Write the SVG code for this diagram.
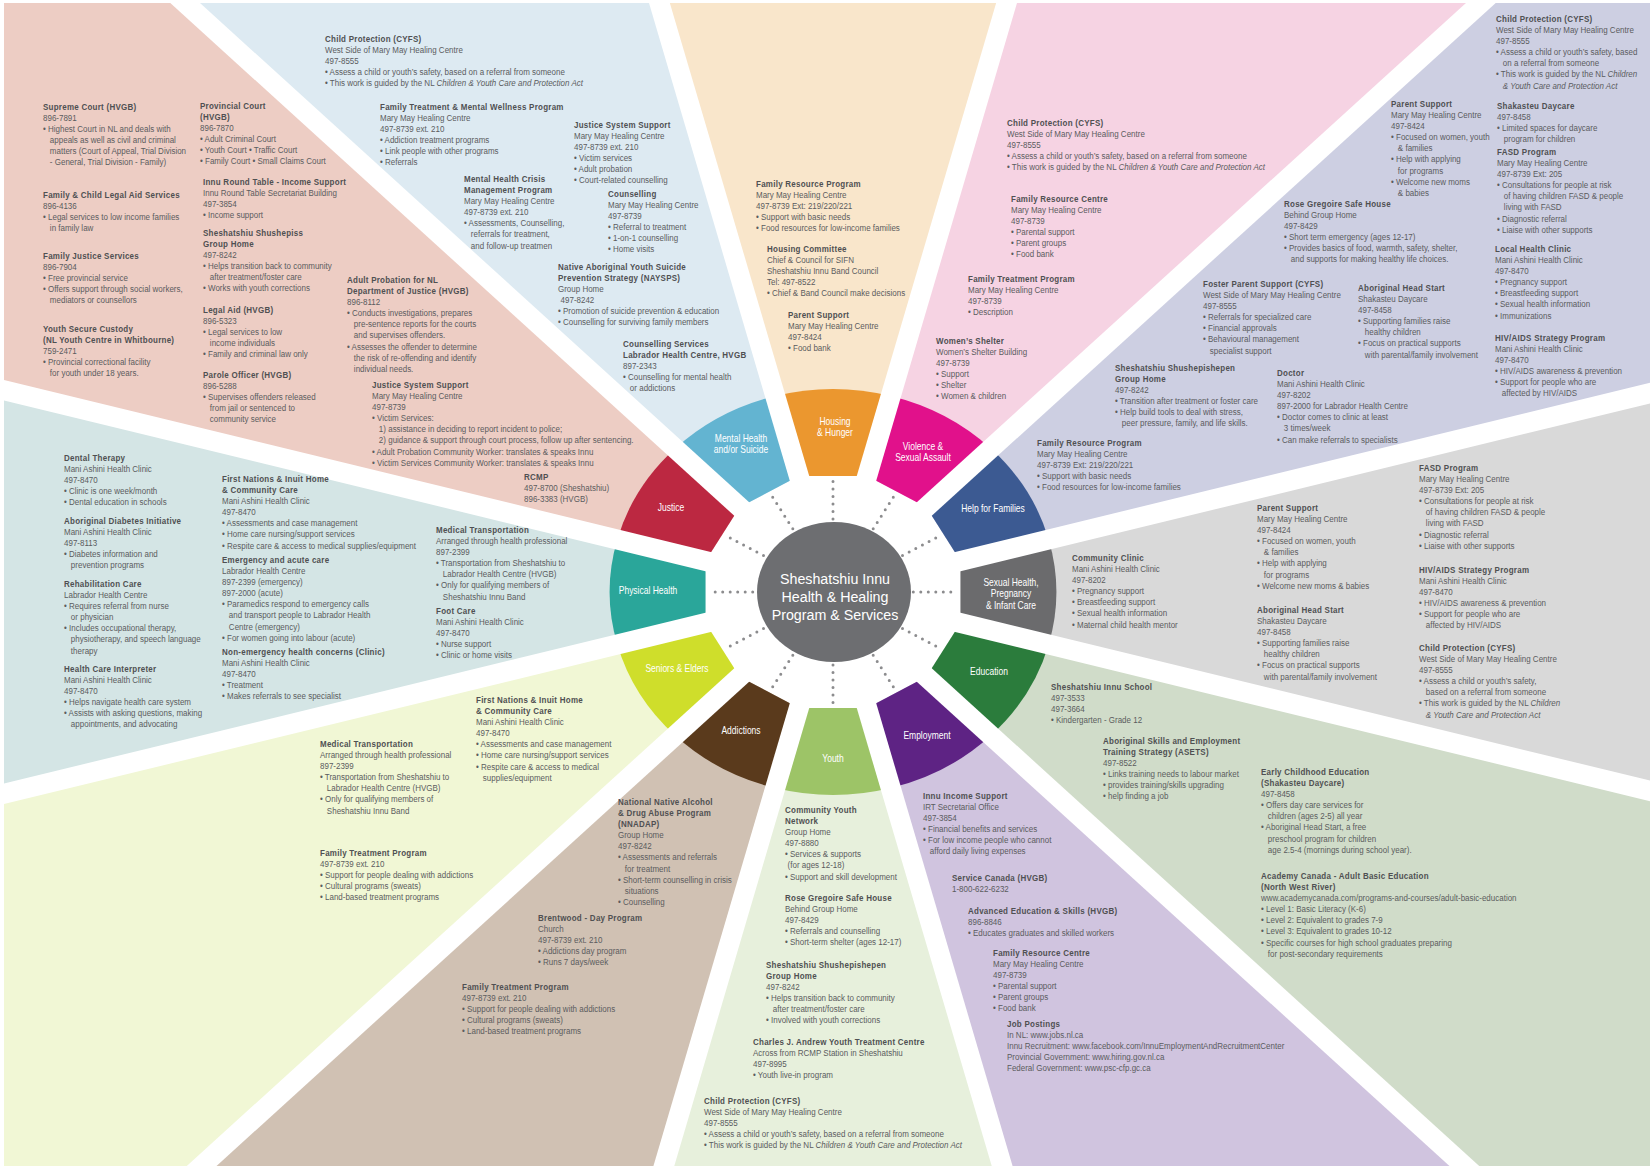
<svg xmlns="http://www.w3.org/2000/svg" width="1650" height="1166" viewBox="0 0 1650 1166">
<style>
.t{font-family:"Liberation Sans",Arial,sans-serif;font-size:9.3px;fill:#5b5c5e}
.h{font-weight:bold;fill:#4f5052;letter-spacing:0.3px}
.i{font-style:italic}
.lbl{font-family:"Liberation Sans",Arial,sans-serif;font-size:10px;fill:#fff;text-anchor:middle}
.ctr{font-family:"Liberation Sans",Arial,sans-serif;font-size:15.5px;fill:#fff;text-anchor:middle}
.strip{stroke:#fff;stroke-width:20;fill:none}
.dots{stroke:#8c8c8e;stroke-width:3;stroke-linecap:round;stroke-dasharray:0 7.5;fill:none}
</style>
<defs>
<clipPath id="frame"><rect x="4" y="3" width="1646" height="1163"/></clipPath>
</defs>
<rect width="1650" height="1166" fill="#fff"/>
<g id="regions" clip-path="url(#frame)">
<g transform="translate(833,592) scale(1.1,1)">
<path fill="#D9D9D9" d="M0,0 L2898,-776 L2898,776 Z"/>
<path fill="#D0DCC9" d="M0,0 L2898,776 L2121,2121 Z"/>
<path fill="#D0C4DF" d="M0,0 L2121,2121 L776,2898 Z"/>
<path fill="#E7F0DC" d="M0,0 L776,2898 L-776,2898 Z"/>
<path fill="#D0C1B3" d="M0,0 L-776,2898 L-2121,2121 Z"/>
<path fill="#F1F7D5" d="M0,0 L-2121,2121 L-2898,776 Z"/>
<path fill="#D4E5E5" d="M0,0 L-2898,776 L-2898,-776 Z"/>
<path fill="#EDCDC4" d="M0,0 L-2898,-776 L-2121,-2121 Z"/>
<path fill="#DDEAF2" d="M0,0 L-2121,-2121 L-776,-2898 Z"/>
<path fill="#F9E6CB" d="M0,0 L-776,-2898 L776,-2898 Z"/>
<path fill="#F6D3E3" d="M0,0 L776,-2898 L2121,-2121 Z"/>
<path fill="#CDCFE2" d="M0,0 L2121,-2121 L2898,-776 Z"/>
<polygon fill="#fff" points="115.91,31.06 84.85,84.85 31.06,115.91 -31.06,115.91 -84.85,84.85 -115.91,31.06 -115.91,-31.06 -84.85,-84.85 -31.06,-115.91 31.06,-115.91 84.85,-84.85 115.91,-31.06"/>
</g>
</g>
<g id="tiles">
<g id="node-sexual-health"><path fill="#6B6B6D" transform="translate(833,592) scale(1.1,1)" d="M115.91,-31.06 L196.08,-52.54 A203,203 0 0 1 196.08,52.54 L115.91,31.06 Z"/></g>
<g id="node-education"><path fill="#2B7C3C" transform="translate(833,592) scale(1.1,1)" d="M115.91,31.06 L196.08,52.54 A203,203 0 0 1 143.54,143.54 L84.85,84.85 Z"/></g>
<g id="node-employment"><path fill="#5E2384" transform="translate(833,592) scale(1.1,1)" d="M84.85,84.85 L143.54,143.54 A203,203 0 0 1 52.54,196.08 L31.06,115.91 Z"/></g>
<g id="node-youth"><path fill="#9DC467" transform="translate(833,592) scale(1.1,1)" d="M31.06,115.91 L52.54,196.08 A203,203 0 0 1 -52.54,196.08 L-31.06,115.91 Z"/></g>
<g id="node-addictions"><path fill="#5A3A1C" transform="translate(833,592) scale(1.1,1)" d="M-31.06,115.91 L-52.54,196.08 A203,203 0 0 1 -143.54,143.54 L-84.85,84.85 Z"/></g>
<g id="node-seniors"><path fill="#CFDE2B" transform="translate(833,592) scale(1.1,1)" d="M-84.85,84.85 L-143.54,143.54 A203,203 0 0 1 -196.08,52.54 L-115.91,31.06 Z"/></g>
<g id="node-physical-health"><path fill="#2AA69A" transform="translate(833,592) scale(1.1,1)" d="M-115.91,31.06 L-196.08,52.54 A203,203 0 0 1 -196.08,-52.54 L-115.91,-31.06 Z"/></g>
<g id="node-justice"><path fill="#BC2841" transform="translate(833,592) scale(1.1,1)" d="M-115.91,-31.06 L-196.08,-52.54 A203,203 0 0 1 -143.54,-143.54 L-84.85,-84.85 Z"/></g>
<g id="node-mental-health"><path fill="#63B4D1" transform="translate(833,592) scale(1.1,1)" d="M-84.85,-84.85 L-143.54,-143.54 A203,203 0 0 1 -52.54,-196.08 L-31.06,-115.91 Z"/></g>
<g id="node-housing"><path fill="#EB972F" transform="translate(833,592) scale(1.1,1)" d="M-31.06,-115.91 L-52.54,-196.08 A203,203 0 0 1 52.54,-196.08 L31.06,-115.91 Z"/></g>
<g id="node-violence"><path fill="#E1118B" transform="translate(833,592) scale(1.1,1)" d="M31.06,-115.91 L52.54,-196.08 A203,203 0 0 1 143.54,-143.54 L84.85,-84.85 Z"/></g>
<g id="node-help-families"><path fill="#3C5A92" transform="translate(833,592) scale(1.1,1)" d="M84.85,-84.85 L143.54,-143.54 A203,203 0 0 1 196.08,-52.54 L115.91,-31.06 Z"/></g>
</g>
<g id="strips" clip-path="url(#frame)">
<line class="strip" x1="833" y1="592" x2="2427" y2="980"/>
<line class="strip" x1="833" y1="592" x2="2000" y2="1653"/>
<line class="strip" x1="833" y1="592" x2="1260" y2="2041"/>
<line class="strip" x1="833" y1="592" x2="406" y2="2041"/>
<line class="strip" x1="833" y1="592" x2="-334" y2="1653"/>
<line class="strip" x1="833" y1="592" x2="-761" y2="980"/>
<line class="strip" x1="833" y1="592" x2="-761" y2="204"/>
<line class="strip" x1="833" y1="592" x2="-334" y2="-469"/>
<line class="strip" x1="833" y1="592" x2="406" y2="-857"/>
<line class="strip" x1="833" y1="592" x2="1260" y2="-857"/>
<line class="strip" x1="833" y1="592" x2="2000" y2="-469"/>
<line class="strip" x1="833" y1="592" x2="2427" y2="204"/>
</g>
<g id="connectors">
<line class="dots" x1="913.3" y1="592" x2="957.3" y2="592"/>
<line class="dots" x1="902.5" y1="628.5" x2="940.6" y2="648.5"/>
<line class="dots" x1="873.2" y1="655.2" x2="895.2" y2="689.9"/>
<line class="dots" x1="833" y1="665" x2="833" y2="705"/>
<line class="dots" x1="792.8" y1="655.2" x2="770.8" y2="689.9"/>
<line class="dots" x1="763.5" y1="628.5" x2="725.4" y2="648.5"/>
<line class="dots" x1="752.7" y1="592" x2="708.7" y2="592"/>
<line class="dots" x1="763.5" y1="555.5" x2="725.4" y2="535.5"/>
<line class="dots" x1="792.8" y1="528.8" x2="770.8" y2="494.1"/>
<line class="dots" x1="833" y1="519" x2="833" y2="479"/>
<line class="dots" x1="873.2" y1="528.8" x2="895.2" y2="494.1"/>
<line class="dots" x1="902.5" y1="555.5" x2="940.6" y2="535.5"/>
</g>
<g id="node-centre">
<ellipse cx="834" cy="592" rx="77" ry="70" fill="#6D6E71"/>
<g transform="translate(835,0) scale(0.92,1)"><text class="ctr"><tspan x="0" y="584">Sheshatshiu Innu</tspan><tspan x="0" y="602">Health &amp; Healing</tspan><tspan x="0" y="620">Program &amp; Services</tspan></text></g>
</g>
<g id="tile-labels">
<g transform="translate(835,425) scale(.85,1)"><text class="lbl"><tspan x="0" y="0">Housing</tspan><tspan x="0" y="11.5">&amp; Hunger</tspan></text></g>
<g transform="translate(923,450) scale(.85,1)"><text class="lbl"><tspan x="0" y="0">Violence &amp;</tspan><tspan x="0" y="11.5">Sexual Assault</tspan></text></g>
<g transform="translate(993,512) scale(.85,1)"><text class="lbl">Help for Families</text></g>
<g transform="translate(1011,586) scale(.85,1)"><text class="lbl"><tspan x="0" y="0">Sexual Health,</tspan><tspan x="0" y="11.5">Pregnancy</tspan><tspan x="0" y="23">&amp; Infant Care</tspan></text></g>
<g transform="translate(989,675) scale(.85,1)"><text class="lbl">Education</text></g>
<g transform="translate(927,739) scale(.85,1)"><text class="lbl">Employment</text></g>
<g transform="translate(833,762) scale(.85,1)"><text class="lbl">Youth</text></g>
<g transform="translate(741,734) scale(.85,1)"><text class="lbl">Addictions</text></g>
<g transform="translate(677,672) scale(.85,1)"><text class="lbl">Seniors &amp; Elders</text></g>
<g transform="translate(648,594) scale(.85,1)"><text class="lbl">Physical Health</text></g>
<g transform="translate(671,511) scale(.85,1)"><text class="lbl">Justice</text></g>
<g transform="translate(741,442) scale(.85,1)"><text class="lbl"><tspan x="0" y="0">Mental Health</tspan><tspan x="0" y="11.5">and/or Suicide</tspan></text></g>
</g>
<g id="services">
<g id="s-supreme-court" transform="translate(43,110) scale(.86,1)"><text class="t"><tspan class="h" x="0" y="0">Supreme Court (HVGB)</tspan><tspan x="0" dy="11.1">896-7891</tspan><tspan x="0" dy="11.1">• Highest Court in NL and deals with</tspan><tspan x="8" dy="11.1">appeals as well as civil and criminal</tspan><tspan x="8" dy="11.1">matters (Court of Appeal, Trial Division</tspan><tspan x="8" dy="11.1">- General, Trial Division - Family)</tspan></text></g>
<g id="s-provincial-court" transform="translate(200,109) scale(.86,1)"><text class="t"><tspan class="h" x="0" y="0">Provincial Court</tspan><tspan class="h" x="0" dy="11.1">(HVGB)</tspan><tspan x="0" dy="11.1">896-7870</tspan><tspan x="0" dy="11.1">• Adult Criminal Court</tspan><tspan x="0" dy="11.1">• Youth Court  • Traffic Court</tspan><tspan x="0" dy="11.1">• Family Court  • Small Claims Court</tspan></text></g>
<g id="s-family-legal-aid" transform="translate(43,198) scale(.86,1)"><text class="t"><tspan class="h" x="0" y="0">Family &amp; Child Legal Aid Services</tspan><tspan x="0" dy="11.1">896-4136</tspan><tspan x="0" dy="11.1">• Legal services to low income families</tspan><tspan x="8" dy="11.1">in family law</tspan></text></g>
<g id="s-innu-round-table" transform="translate(203,185) scale(.86,1)"><text class="t"><tspan class="h" x="0" y="0">Innu Round Table - Income Support</tspan><tspan x="0" dy="11.1">Innu Round Table Secretariat Building</tspan><tspan x="0" dy="11.1">497-3854</tspan><tspan x="0" dy="11.1">• Income support</tspan></text></g>
<g id="s-family-justice" transform="translate(43,259) scale(.86,1)"><text class="t"><tspan class="h" x="0" y="0">Family Justice Services</tspan><tspan x="0" dy="11.1">896-7904</tspan><tspan x="0" dy="11.1">• Free provincial service</tspan><tspan x="0" dy="11.1">• Offers support through social workers,</tspan><tspan x="8" dy="11.1">mediators or counsellors</tspan></text></g>
<g id="s-shushepiss" transform="translate(203,236) scale(.86,1)"><text class="t"><tspan class="h" x="0" y="0">Sheshatshiu Shushepiss</tspan><tspan class="h" x="0" dy="11.1">Group Home</tspan><tspan x="0" dy="11.1">497-8242</tspan><tspan x="0" dy="11.1">• Helps transition back to community</tspan><tspan x="8" dy="11.1">after treatment/foster care</tspan><tspan x="0" dy="11.1">• Works with youth corrections</tspan></text></g>
<g id="s-youth-custody" transform="translate(43,332) scale(.86,1)"><text class="t"><tspan class="h" x="0" y="0">Youth Secure Custody</tspan><tspan class="h" x="0" dy="11.1">(NL Youth Centre in Whitbourne)</tspan><tspan x="0" dy="11.1">759-2471</tspan><tspan x="0" dy="11.1">• Provincial correctional facility</tspan><tspan x="8" dy="11.1">for youth under 18 years.</tspan></text></g>
<g id="s-legal-aid" transform="translate(203,313) scale(.86,1)"><text class="t"><tspan class="h" x="0" y="0">Legal Aid (HVGB)</tspan><tspan x="0" dy="11.1">896-5323</tspan><tspan x="0" dy="11.1">• Legal services to low</tspan><tspan x="8" dy="11.1">income individuals</tspan><tspan x="0" dy="11.1">• Family and criminal law only</tspan></text></g>
<g id="s-parole" transform="translate(203,378) scale(.86,1)"><text class="t"><tspan class="h" x="0" y="0">Parole Officer (HVGB)</tspan><tspan x="0" dy="11.1">896-5288</tspan><tspan x="0" dy="11.1">• Supervises offenders released</tspan><tspan x="8" dy="11.1">from jail or sentenced to</tspan><tspan x="8" dy="11.1">community service</tspan></text></g>
<g id="s-adult-probation" transform="translate(347,283) scale(.86,1)"><text class="t"><tspan class="h" x="0" y="0">Adult Probation for NL</tspan><tspan class="h" x="0" dy="11.1">Department of Justice (HVGB)</tspan><tspan x="0" dy="11.1">896-8112</tspan><tspan x="0" dy="11.1">• Conducts investigations, prepares</tspan><tspan x="8" dy="11.1">pre-sentence reports for the courts</tspan><tspan x="8" dy="11.1">and supervises offenders.</tspan><tspan x="0" dy="11.1">• Assesses the offender to determine</tspan><tspan x="8" dy="11.1">the risk of re-offending and identify</tspan><tspan x="8" dy="11.1">individual needs.</tspan></text></g>
<g id="s-justice-support-2" transform="translate(372,388) scale(.86,1)"><text class="t"><tspan class="h" x="0" y="0">Justice System Support</tspan><tspan x="0" dy="11.1">Mary May Healing Centre</tspan><tspan x="0" dy="11.1">497-8739</tspan><tspan x="0" dy="11.1">• Victim Services:</tspan><tspan x="8" dy="11.1">1) assistance in deciding to report incident to police;</tspan><tspan x="8" dy="11.1">2) guidance &amp; support through court process, follow up after sentencing.</tspan><tspan x="0" dy="11.1">• Adult Probation Community Worker: translates &amp; speaks Innu</tspan><tspan x="0" dy="11.1">• Victim Services Community Worker: translates &amp; speaks Innu</tspan></text></g>
<g id="s-rcmp" transform="translate(524,480) scale(.86,1)"><text class="t"><tspan class="h" x="0" y="0">RCMP</tspan><tspan x="0" dy="11.1">497-8700 (Sheshatshiu)</tspan><tspan x="0" dy="11.1">896-3383 (HVGB)</tspan></text></g>
<g id="s-cp-mental" transform="translate(325,42) scale(.86,1)"><text class="t"><tspan class="h" x="0" y="0">Child Protection (CYFS)</tspan><tspan x="0" dy="11.1">West Side of Mary May Healing Centre</tspan><tspan x="0" dy="11.1">497-8555</tspan><tspan x="0" dy="11.1">• Assess a child or youth’s safety, based on a referral from someone</tspan><tspan x="0" dy="11.1">• This work is guided by the NL <tspan class="i">Children &amp; Youth Care and Protection Act</tspan></tspan></text></g>
<g id="s-ftmw" transform="translate(380,110) scale(.86,1)"><text class="t"><tspan class="h" x="0" y="0">Family Treatment &amp; Mental Wellness Program</tspan><tspan x="0" dy="11.1">Mary May Healing Centre</tspan><tspan x="0" dy="11.1">497-8739 ext. 210</tspan><tspan x="0" dy="11.1">• Addiction treatment programs</tspan><tspan x="0" dy="11.1">• Link people with other programs</tspan><tspan x="0" dy="11.1">• Referrals</tspan></text></g>
<g id="s-justice-support-1" transform="translate(574,128) scale(.86,1)"><text class="t"><tspan class="h" x="0" y="0">Justice System Support</tspan><tspan x="0" dy="11.1">Mary May Healing Centre</tspan><tspan x="0" dy="11.1">497-8739 ext. 210</tspan><tspan x="0" dy="11.1">• Victim services</tspan><tspan x="0" dy="11.1">• Adult probation</tspan><tspan x="0" dy="11.1">• Court-related counselling</tspan></text></g>
<g id="s-crisis" transform="translate(464,182) scale(.86,1)"><text class="t"><tspan class="h" x="0" y="0">Mental Health Crisis</tspan><tspan class="h" x="0" dy="11.1">Management Program</tspan><tspan x="0" dy="11.1">Mary May Healing Centre</tspan><tspan x="0" dy="11.1">497-8739 ext. 210</tspan><tspan x="0" dy="11.1">• Assessments, Counselling,</tspan><tspan x="8" dy="11.1">referrals for treatment,</tspan><tspan x="8" dy="11.1">and follow-up treatmen</tspan></text></g>
<g id="s-counselling" transform="translate(608,197) scale(.86,1)"><text class="t"><tspan class="h" x="0" y="0">Counselling</tspan><tspan x="0" dy="11.1">Mary May Healing Centre</tspan><tspan x="0" dy="11.1">497-8739</tspan><tspan x="0" dy="11.1">• Referral to treatment</tspan><tspan x="0" dy="11.1">• 1-on-1 counselling</tspan><tspan x="0" dy="11.1">• Home visits</tspan></text></g>
<g id="s-naysps" transform="translate(558,270) scale(.86,1)"><text class="t"><tspan class="h" x="0" y="0">Native Aboriginal Youth Suicide</tspan><tspan class="h" x="0" dy="11.1">Prevention Strategy (NAYSPS)</tspan><tspan x="0" dy="11.1">Group Home</tspan><tspan x="3" dy="11.1">497-8242</tspan><tspan x="0" dy="11.1">• Promotion of suicide prevention &amp; education</tspan><tspan x="0" dy="11.1">• Counselling for surviving family members</tspan></text></g>
<g id="s-counselling-services" transform="translate(623,347) scale(.86,1)"><text class="t"><tspan class="h" x="0" y="0">Counselling Services</tspan><tspan class="h" x="0" dy="11.1">Labrador Health Centre, HVGB</tspan><tspan x="0" dy="11.1">897-2343</tspan><tspan x="0" dy="11.1">• Counselling for mental health</tspan><tspan x="8" dy="11.1">or addictions</tspan></text></g>
<g id="s-frp-housing" transform="translate(756,187) scale(.86,1)"><text class="t"><tspan class="h" x="0" y="0">Family Resource Program</tspan><tspan x="0" dy="11.1">Mary May Healing Centre</tspan><tspan x="0" dy="11.1">497-8739 Ext: 219/220/221</tspan><tspan x="0" dy="11.1">• Support with basic needs</tspan><tspan x="0" dy="11.1">• Food resources for low-income families</tspan></text></g>
<g id="s-housing-committee" transform="translate(767,252) scale(.86,1)"><text class="t"><tspan class="h" x="0" y="0">Housing Committee</tspan><tspan x="0" dy="11.1">Chief &amp; Council for SIFN</tspan><tspan x="0" dy="11.1">Sheshatshiu Innu Band Council</tspan><tspan x="0" dy="11.1">Tel: 497-8522</tspan><tspan x="0" dy="11.1">• Chief &amp; Band Council make decisions</tspan></text></g>
<g id="s-parent-support-housing" transform="translate(788,318) scale(.86,1)"><text class="t"><tspan class="h" x="0" y="0">Parent Support</tspan><tspan x="0" dy="11.1">Mary May Healing Centre</tspan><tspan x="0" dy="11.1">497-8424</tspan><tspan x="0" dy="11.1">• Food bank</tspan></text></g>
<g id="s-cp-violence" transform="translate(1007,126) scale(.86,1)"><text class="t"><tspan class="h" x="0" y="0">Child Protection (CYFS)</tspan><tspan x="0" dy="11.1">West Side of Mary May Healing Centre</tspan><tspan x="0" dy="11.1">497-8555</tspan><tspan x="0" dy="11.1">• Assess a child or youth’s safety, based on a referral from someone</tspan><tspan x="0" dy="11.1">• This work is guided by the NL <tspan class="i">Children &amp; Youth Care and Protection Act</tspan></tspan></text></g>
<g id="s-frc-violence" transform="translate(1011,202) scale(.86,1)"><text class="t"><tspan class="h" x="0" y="0">Family Resource Centre</tspan><tspan x="0" dy="11.1">Mary May Healing Centre</tspan><tspan x="0" dy="11.1">497-8739</tspan><tspan x="0" dy="11.1">• Parental support</tspan><tspan x="0" dy="11.1">• Parent groups</tspan><tspan x="0" dy="11.1">• Food bank</tspan></text></g>
<g id="s-ftp-violence" transform="translate(968,282) scale(.86,1)"><text class="t"><tspan class="h" x="0" y="0">Family Treatment Program</tspan><tspan x="0" dy="11.1">Mary May Healing Centre</tspan><tspan x="0" dy="11.1">497-8739</tspan><tspan x="0" dy="11.1">• Description</tspan></text></g>
<g id="s-womens-shelter" transform="translate(936,344) scale(.86,1)"><text class="t"><tspan class="h" x="0" y="0">Women’s Shelter</tspan><tspan x="0" dy="11.1">Women’s Shelter Building</tspan><tspan x="0" dy="11.1">497-8739</tspan><tspan x="0" dy="11.1">• Support</tspan><tspan x="0" dy="11.1">• Shelter</tspan><tspan x="0" dy="11.1">• Women &amp; children</tspan></text></g>
<g id="s-cp-help" transform="translate(1496,22) scale(.86,1)"><text class="t"><tspan class="h" x="0" y="0">Child Protection (CYFS)</tspan><tspan x="0" dy="11.1">West Side of Mary May Healing Centre</tspan><tspan x="0" dy="11.1">497-8555</tspan><tspan x="0" dy="11.1">• Assess a child or youth’s safety, based</tspan><tspan x="8" dy="11.1">on a referral from someone</tspan><tspan x="0" dy="11.1">• This work is guided by the NL <tspan class="i">Children</tspan></tspan><tspan class="i" x="8" dy="11.1">&amp; Youth Care and Protection Act</tspan></text></g>
<g id="s-parent-support-help" transform="translate(1391,107) scale(.86,1)"><text class="t"><tspan class="h" x="0" y="0">Parent Support</tspan><tspan x="0" dy="11.1">Mary May Healing Centre</tspan><tspan x="0" dy="11.1">497-8424</tspan><tspan x="0" dy="11.1">• Focused on women, youth</tspan><tspan x="8" dy="11.1">&amp; families</tspan><tspan x="0" dy="11.1">• Help with applying</tspan><tspan x="8" dy="11.1">for programs</tspan><tspan x="0" dy="11.1">• Welcome new moms</tspan><tspan x="8" dy="11.1">&amp; babies</tspan></text></g>
<g id="s-shakasteu" transform="translate(1497,109) scale(.86,1)"><text class="t"><tspan class="h" x="0" y="0">Shakasteu Daycare</tspan><tspan x="0" dy="11.1">497-8458</tspan><tspan x="0" dy="11.1">• Limited spaces for daycare</tspan><tspan x="8" dy="11.1">program for children</tspan></text></g>
<g id="s-fasd-help" transform="translate(1497,155) scale(.86,1)"><text class="t"><tspan class="h" x="0" y="0">FASD Program</tspan><tspan x="0" dy="11.1">Mary May Healing Centre</tspan><tspan x="0" dy="11.1">497-8739 Ext: 205</tspan><tspan x="0" dy="11.1">• Consultations for people at risk</tspan><tspan x="8" dy="11.1">of having children FASD &amp; people</tspan><tspan x="8" dy="11.1">living with FASD</tspan><tspan x="0" dy="11.1">• Diagnostic referral</tspan><tspan x="0" dy="11.1">• Liaise with other supports</tspan></text></g>
<g id="s-rose-help" transform="translate(1284,207) scale(.86,1)"><text class="t"><tspan class="h" x="0" y="0">Rose Gregoire  Safe House</tspan><tspan x="0" dy="11.1">Behind Group Home</tspan><tspan x="0" dy="11.1">497-8429</tspan><tspan x="0" dy="11.1">• Short term emergency  (ages 12-17)</tspan><tspan x="0" dy="11.1">• Provides basics of food, warmth, safety, shelter,</tspan><tspan x="8" dy="11.1">and supports for making healthy life choices.</tspan></text></g>
<g id="s-local-clinic" transform="translate(1495,252) scale(.86,1)"><text class="t"><tspan class="h" x="0" y="0">Local Health Clinic</tspan><tspan x="0" dy="11.1">Mani Ashini Health Clinic</tspan><tspan x="0" dy="11.1">497-8470</tspan><tspan x="0" dy="11.1">• Pregnancy support</tspan><tspan x="0" dy="11.1">• Breastfeeding support</tspan><tspan x="0" dy="11.1">• Sexual health information</tspan><tspan x="0" dy="11.1">• Immunizations</tspan></text></g>
<g id="s-foster" transform="translate(1203,287) scale(.86,1)"><text class="t"><tspan class="h" x="0" y="0">Foster Parent Support (CYFS)</tspan><tspan x="0" dy="11.1">West Side of  Mary May Healing Centre</tspan><tspan x="0" dy="11.1">497-8555</tspan><tspan x="0" dy="11.1">• Referrals for specialized care</tspan><tspan x="0" dy="11.1">• Financial approvals</tspan><tspan x="0" dy="11.1">• Behavioural management</tspan><tspan x="8" dy="11.1">specialist support</tspan></text></g>
<g id="s-ahs-help" transform="translate(1358,291) scale(.86,1)"><text class="t"><tspan class="h" x="0" y="0">Aboriginal Head Start</tspan><tspan x="0" dy="11.1">Shakasteu Daycare</tspan><tspan x="0" dy="11.1">497-8458</tspan><tspan x="0" dy="11.1">• Supporting families raise</tspan><tspan x="8" dy="11.1">healthy children</tspan><tspan x="0" dy="11.1">• Focus on practical supports</tspan><tspan x="8" dy="11.1">with parental/family involvement</tspan></text></g>
<g id="s-hiv-help" transform="translate(1495,341) scale(.86,1)"><text class="t"><tspan class="h" x="0" y="0">HIV/AIDS Strategy Program</tspan><tspan x="0" dy="11.1">Mani Ashini Health Clinic</tspan><tspan x="0" dy="11.1">497-8470</tspan><tspan x="0" dy="11.1">• HIV/AIDS awareness &amp; prevention</tspan><tspan x="0" dy="11.1">• Support for people who are</tspan><tspan x="8" dy="11.1">affected by HIV/AIDS</tspan></text></g>
<g id="s-shushepishepen-help" transform="translate(1115,371) scale(.86,1)"><text class="t"><tspan class="h" x="0" y="0">Sheshatshiu Shushepishepen</tspan><tspan class="h" x="0" dy="11.1">Group Home</tspan><tspan x="0" dy="11.1">497-8242</tspan><tspan x="0" dy="11.1">• Transition after treatment or foster care</tspan><tspan x="0" dy="11.1">• Help build tools to deal with stress,</tspan><tspan x="8" dy="11.1">peer pressure, family, and life skills.</tspan></text></g>
<g id="s-doctor" transform="translate(1277,376) scale(.86,1)"><text class="t"><tspan class="h" x="0" y="0">Doctor</tspan><tspan x="0" dy="11.1">Mani Ashini Health Clinic</tspan><tspan x="0" dy="11.1">497-8202</tspan><tspan x="0" dy="11.1">897-2000 for Labrador Health Centre</tspan><tspan x="0" dy="11.1">• Doctor comes to clinic at least</tspan><tspan x="8" dy="11.1">3 times/week</tspan><tspan x="0" dy="11.1">• Can make referrals to specialists</tspan></text></g>
<g id="s-frp-help" transform="translate(1037,446) scale(.86,1)"><text class="t"><tspan class="h" x="0" y="0">Family Resource Program</tspan><tspan x="0" dy="11.1">Mary May Healing Centre</tspan><tspan x="0" dy="11.1">497-8739 Ext: 219/220/221</tspan><tspan x="0" dy="11.1">• Support with basic needs</tspan><tspan x="0" dy="11.1">• Food resources for low-income families</tspan></text></g>
<g id="s-dental" transform="translate(64,461) scale(.86,1)"><text class="t"><tspan class="h" x="0" y="0">Dental Therapy</tspan><tspan x="0" dy="11.1">Mani Ashini Health Clinic</tspan><tspan x="0" dy="11.1">497-8470</tspan><tspan x="0" dy="11.1">• Clinic is one week/month</tspan><tspan x="0" dy="11.1">• Dental education in schools</tspan></text></g>
<g id="s-diabetes" transform="translate(64,524) scale(.86,1)"><text class="t"><tspan class="h" x="0" y="0">Aboriginal Diabetes Initiative</tspan><tspan x="0" dy="11.1">Mani Ashini Health Clinic</tspan><tspan x="0" dy="11.1">497-8113</tspan><tspan x="0" dy="11.1">• Diabetes information and</tspan><tspan x="8" dy="11.1">prevention programs</tspan></text></g>
<g id="s-rehab" transform="translate(64,587) scale(.86,1)"><text class="t"><tspan class="h" x="0" y="0">Rehabilitation Care</tspan><tspan x="0" dy="11.1">Labrador Health Centre</tspan><tspan x="0" dy="11.1">• Requires referral from nurse</tspan><tspan x="8" dy="11.1">or physician</tspan><tspan x="0" dy="11.1">• Includes occupational therapy,</tspan><tspan x="8" dy="11.1">physiotherapy, and speech language</tspan><tspan x="8" dy="11.1">therapy</tspan></text></g>
<g id="s-interpreter" transform="translate(64,672) scale(.86,1)"><text class="t"><tspan class="h" x="0" y="0">Health Care Interpreter</tspan><tspan x="0" dy="11.1">Mani Ashini Health Clinic</tspan><tspan x="0" dy="11.1">497-8470</tspan><tspan x="0" dy="11.1">• Helps navigate health care system</tspan><tspan x="0" dy="11.1">• Assists with asking questions, making</tspan><tspan x="8" dy="11.1">appointments, and advocating</tspan></text></g>
<g id="s-fnihcc-physical" transform="translate(222,482) scale(.86,1)"><text class="t"><tspan class="h" x="0" y="0">First Nations &amp; Inuit Home</tspan><tspan class="h" x="0" dy="11.1">&amp; Community Care</tspan><tspan x="0" dy="11.1">Mani Ashini Health Clinic</tspan><tspan x="0" dy="11.1">497-8470</tspan><tspan x="0" dy="11.1">• Assessments and case management</tspan><tspan x="0" dy="11.1">• Home care nursing/support services</tspan><tspan x="0" dy="11.1">• Respite care &amp; access to medical supplies/equipment</tspan></text></g>
<g id="s-emergency" transform="translate(222,563) scale(.86,1)"><text class="t"><tspan class="h" x="0" y="0">Emergency and acute care</tspan><tspan x="0" dy="11.1">Labrador Health Centre</tspan><tspan x="0" dy="11.1">897-2399 (emergency)</tspan><tspan x="0" dy="11.1">897-2000 (acute)</tspan><tspan x="0" dy="11.1">• Paramedics respond to emergency calls</tspan><tspan x="8" dy="11.1">and transport people to Labrador Health</tspan><tspan x="8" dy="11.1">Centre (emergency)</tspan><tspan x="0" dy="11.1">• For women going into labour (acute)</tspan></text></g>
<g id="s-non-emergency" transform="translate(222,655) scale(.86,1)"><text class="t"><tspan class="h" x="0" y="0">Non-emergency health concerns (Clinic)</tspan><tspan x="0" dy="11.1">Mani Ashini Health Clinic</tspan><tspan x="0" dy="11.1">497-8470</tspan><tspan x="0" dy="11.1">• Treatment</tspan><tspan x="0" dy="11.1">• Makes referrals to see specialist</tspan></text></g>
<g id="s-medtrans-physical" transform="translate(436,533) scale(.86,1)"><text class="t"><tspan class="h" x="0" y="0">Medical Transportation</tspan><tspan x="0" dy="11.1">Arranged through health professional</tspan><tspan x="0" dy="11.1">897-2399</tspan><tspan x="0" dy="11.1">• Transportation from Sheshatshiu to</tspan><tspan x="8" dy="11.1">Labrador Health Centre (HVGB)</tspan><tspan x="0" dy="11.1">• Only for qualifying members of</tspan><tspan x="8" dy="11.1">Sheshatshiu Innu Band</tspan></text></g>
<g id="s-footcare" transform="translate(436,614) scale(.86,1)"><text class="t"><tspan class="h" x="0" y="0">Foot Care</tspan><tspan x="0" dy="11.1">Mani Ashini Health Clinic</tspan><tspan x="0" dy="11.1">497-8470</tspan><tspan x="0" dy="11.1">• Nurse support</tspan><tspan x="0" dy="11.1">• Clinic or home visits</tspan></text></g>
<g id="s-fnihcc-seniors" transform="translate(476,703) scale(.86,1)"><text class="t"><tspan class="h" x="0" y="0">First Nations &amp; Inuit Home</tspan><tspan class="h" x="0" dy="11.1">&amp; Community Care</tspan><tspan x="0" dy="11.1">Mani Ashini Health Clinic</tspan><tspan x="0" dy="11.1">497-8470</tspan><tspan x="0" dy="11.1">• Assessments and case management</tspan><tspan x="0" dy="11.1">• Home care nursing/support services</tspan><tspan x="0" dy="11.1">• Respite care &amp; access to medical</tspan><tspan x="8" dy="11.1">supplies/equipment</tspan></text></g>
<g id="s-medtrans-seniors" transform="translate(320,747) scale(.86,1)"><text class="t"><tspan class="h" x="0" y="0">Medical Transportation</tspan><tspan x="0" dy="11.1">Arranged through health professional</tspan><tspan x="0" dy="11.1">897-2399</tspan><tspan x="0" dy="11.1">• Transportation from Sheshatshiu to</tspan><tspan x="8" dy="11.1">Labrador Health Centre (HVGB)</tspan><tspan x="0" dy="11.1">• Only for qualifying members of</tspan><tspan x="8" dy="11.1">Sheshatshiu Innu Band</tspan></text></g>
<g id="s-ftp-seniors" transform="translate(320,856) scale(.86,1)"><text class="t"><tspan class="h" x="0" y="0">Family Treatment Program</tspan><tspan x="0" dy="11.1">497-8739 ext. 210</tspan><tspan x="0" dy="11.1">• Support for people dealing with addictions</tspan><tspan x="0" dy="11.1">• Cultural programs (sweats)</tspan><tspan x="0" dy="11.1">• Land-based treatment programs</tspan></text></g>
<g id="s-nnadap" transform="translate(618,805) scale(.86,1)"><text class="t"><tspan class="h" x="0" y="0">National Native Alcohol</tspan><tspan class="h" x="0" dy="11.1">&amp; Drug Abuse Program</tspan><tspan class="h" x="0" dy="11.1">(NNADAP)</tspan><tspan x="0" dy="11.1">Group Home</tspan><tspan x="0" dy="11.1">497-8242</tspan><tspan x="0" dy="11.1">• Assessments and referrals</tspan><tspan x="8" dy="11.1">for treatment</tspan><tspan x="0" dy="11.1">• Short-term counselling in crisis</tspan><tspan x="8" dy="11.1">situations</tspan><tspan x="0" dy="11.1">• Counselling</tspan></text></g>
<g id="s-brentwood" transform="translate(538,921) scale(.86,1)"><text class="t"><tspan class="h" x="0" y="0">Brentwood - Day Program</tspan><tspan x="0" dy="11.1">Church</tspan><tspan x="0" dy="11.1">497-8739 ext. 210</tspan><tspan x="0" dy="11.1">• Addictions day program</tspan><tspan x="0" dy="11.1">• Runs 7 days/week</tspan></text></g>
<g id="s-ftp-addictions" transform="translate(462,990) scale(.86,1)"><text class="t"><tspan class="h" x="0" y="0">Family Treatment Program</tspan><tspan x="0" dy="11.1">497-8739 ext. 210</tspan><tspan x="0" dy="11.1">• Support for people dealing with addictions</tspan><tspan x="0" dy="11.1">• Cultural programs (sweats)</tspan><tspan x="0" dy="11.1">• Land-based treatment programs</tspan></text></g>
<g id="s-cyn" transform="translate(785,813) scale(.86,1)"><text class="t"><tspan class="h" x="0" y="0">Community Youth</tspan><tspan class="h" x="0" dy="11.1">Network</tspan><tspan x="0" dy="11.1">Group Home</tspan><tspan x="0" dy="11.1">497-8880</tspan><tspan x="0" dy="11.1">• Services &amp; supports</tspan><tspan x="3" dy="11.1">(for ages 12-18)</tspan><tspan x="0" dy="11.1">• Support and skill development</tspan></text></g>
<g id="s-rose-youth" transform="translate(785,901) scale(.86,1)"><text class="t"><tspan class="h" x="0" y="0">Rose Gregoire Safe House</tspan><tspan x="0" dy="11.1">Behind Group Home</tspan><tspan x="0" dy="11.1">497-8429</tspan><tspan x="0" dy="11.1">• Referrals and counselling</tspan><tspan x="0" dy="11.1">• Short-term shelter (ages 12-17)</tspan></text></g>
<g id="s-shushepishepen-youth" transform="translate(766,968) scale(.86,1)"><text class="t"><tspan class="h" x="0" y="0">Sheshatshiu Shushepishepen</tspan><tspan class="h" x="0" dy="11.1">Group Home</tspan><tspan x="0" dy="11.1">497-8242</tspan><tspan x="0" dy="11.1">• Helps transition back to community</tspan><tspan x="8" dy="11.1">after treatment/foster care</tspan><tspan x="0" dy="11.1">• Involved with youth corrections</tspan></text></g>
<g id="s-charles" transform="translate(753,1045) scale(.86,1)"><text class="t"><tspan class="h" x="0" y="0">Charles J. Andrew Youth Treatment Centre</tspan><tspan x="0" dy="11.1">Across from RCMP Station in Sheshatshiu</tspan><tspan x="0" dy="11.1">497-8995</tspan><tspan x="0" dy="11.1">• Youth live-in program</tspan></text></g>
<g id="s-cp-youth" transform="translate(704,1104) scale(.86,1)"><text class="t"><tspan class="h" x="0" y="0">Child Protection (CYFS)</tspan><tspan x="0" dy="11.1">West Side of Mary May Healing Centre</tspan><tspan x="0" dy="11.1">497-8555</tspan><tspan x="0" dy="11.1">• Assess a child or youth’s safety, based on a referral from someone</tspan><tspan x="0" dy="11.1">• This work is guided by the NL <tspan class="i">Children &amp; Youth Care and Protection Act</tspan></tspan></text></g>
<g id="s-income-support" transform="translate(923,799) scale(.86,1)"><text class="t"><tspan class="h" x="0" y="0">Innu Income Support</tspan><tspan x="0" dy="11.1">IRT Secretarial Office</tspan><tspan x="0" dy="11.1">497-3854</tspan><tspan x="0" dy="11.1">• Financial benefits and services</tspan><tspan x="0" dy="11.1">• For low income people who cannot</tspan><tspan x="8" dy="11.1">afford daily living expenses</tspan></text></g>
<g id="s-service-canada" transform="translate(952,881) scale(.86,1)"><text class="t"><tspan class="h" x="0" y="0">Service Canada (HVGB)</tspan><tspan x="0" dy="11.1">1-800-622-6232</tspan></text></g>
<g id="s-adv-ed" transform="translate(968,914) scale(.86,1)"><text class="t"><tspan class="h" x="0" y="0">Advanced Education &amp; Skills (HVGB)</tspan><tspan x="0" dy="11.1">896-8846</tspan><tspan x="0" dy="11.1">• Educates graduates and skilled workers</tspan></text></g>
<g id="s-frc-employment" transform="translate(993,956) scale(.86,1)"><text class="t"><tspan class="h" x="0" y="0">Family Resource Centre</tspan><tspan x="0" dy="11.1">Mary May Healing Centre</tspan><tspan x="0" dy="11.1">497-8739</tspan><tspan x="0" dy="11.1">• Parental support</tspan><tspan x="0" dy="11.1">• Parent groups</tspan><tspan x="0" dy="11.1">• Food bank</tspan></text></g>
<g id="s-job-postings" transform="translate(1007,1027) scale(.86,1)"><text class="t"><tspan class="h" x="0" y="0">Job Postings</tspan><tspan x="0" dy="11.1">In NL: www.jobs.nl.ca</tspan><tspan x="0" dy="11.1">Innu Recruitment: www.facebook.com/InnuEmploymentAndRecruitmentCenter</tspan><tspan x="0" dy="11.1">Provincial Government: www.hiring.gov.nl.ca</tspan><tspan x="0" dy="11.1">Federal Government: www.psc-cfp.gc.ca</tspan></text></g>
<g id="s-community-clinic" transform="translate(1072,561) scale(.86,1)"><text class="t"><tspan class="h" x="0" y="0">Community Clinic</tspan><tspan x="0" dy="11.1">Mani Ashini Health Clinic</tspan><tspan x="0" dy="11.1">497-8202</tspan><tspan x="0" dy="11.1">• Pregnancy support</tspan><tspan x="0" dy="11.1">• Breastfeeding support</tspan><tspan x="0" dy="11.1">• Sexual health information</tspan><tspan x="0" dy="11.1">• Maternal child health mentor</tspan></text></g>
<g id="s-fasd-sh" transform="translate(1419,471) scale(.86,1)"><text class="t"><tspan class="h" x="0" y="0">FASD Program</tspan><tspan x="0" dy="11.1">Mary May Healing Centre</tspan><tspan x="0" dy="11.1">497-8739 Ext: 205</tspan><tspan x="0" dy="11.1">• Consultations for people at risk</tspan><tspan x="8" dy="11.1">of having children FASD &amp; people</tspan><tspan x="8" dy="11.1">living with FASD</tspan><tspan x="0" dy="11.1">• Diagnostic referral</tspan><tspan x="0" dy="11.1">• Liaise with other supports</tspan></text></g>
<g id="s-parent-support-sh" transform="translate(1257,511) scale(.86,1)"><text class="t"><tspan class="h" x="0" y="0">Parent Support</tspan><tspan x="0" dy="11.1">Mary May Healing Centre</tspan><tspan x="0" dy="11.1">497-8424</tspan><tspan x="0" dy="11.1">• Focused on women, youth</tspan><tspan x="8" dy="11.1">&amp; families</tspan><tspan x="0" dy="11.1">• Help with applying</tspan><tspan x="8" dy="11.1">for programs</tspan><tspan x="0" dy="11.1">• Welcome new moms &amp; babies</tspan></text></g>
<g id="s-hiv-sh" transform="translate(1419,573) scale(.86,1)"><text class="t"><tspan class="h" x="0" y="0">HIV/AIDS Strategy Program</tspan><tspan x="0" dy="11.1">Mani Ashini Health Clinic</tspan><tspan x="0" dy="11.1">497-8470</tspan><tspan x="0" dy="11.1">• HIV/AIDS awareness &amp; prevention</tspan><tspan x="0" dy="11.1">• Support for people who are</tspan><tspan x="8" dy="11.1">affected by HIV/AIDS</tspan></text></g>
<g id="s-ahs-sh" transform="translate(1257,613) scale(.86,1)"><text class="t"><tspan class="h" x="0" y="0">Aboriginal Head Start</tspan><tspan x="0" dy="11.1">Shakasteu Daycare</tspan><tspan x="0" dy="11.1">497-8458</tspan><tspan x="0" dy="11.1">• Supporting families raise</tspan><tspan x="8" dy="11.1">healthy children</tspan><tspan x="0" dy="11.1">• Focus on practical supports</tspan><tspan x="8" dy="11.1">with parental/family involvement</tspan></text></g>
<g id="s-cp-sh" transform="translate(1419,651) scale(.86,1)"><text class="t"><tspan class="h" x="0" y="0">Child Protection (CYFS)</tspan><tspan x="0" dy="11.1">West Side of Mary May Healing Centre</tspan><tspan x="0" dy="11.1">497-8555</tspan><tspan x="0" dy="11.1">• Assess a child or youth’s safety,</tspan><tspan x="8" dy="11.1">based on a referral from someone</tspan><tspan x="0" dy="11.1">• This work is guided by the NL <tspan class="i">Children</tspan></tspan><tspan class="i" x="8" dy="11.1">&amp; Youth Care and Protection Act</tspan></text></g>
<g id="s-school" transform="translate(1051,690) scale(.86,1)"><text class="t"><tspan class="h" x="0" y="0">Sheshatshiu Innu School</tspan><tspan x="0" dy="11.1">497-3533</tspan><tspan x="0" dy="11.1">497-3664</tspan><tspan x="0" dy="11.1">• Kindergarten - Grade 12</tspan></text></g>
<g id="s-asets" transform="translate(1103,744) scale(.86,1)"><text class="t"><tspan class="h" x="0" y="0">Aboriginal Skills and Employment</tspan><tspan class="h" x="0" dy="11.1">Training Strategy  (ASETS)</tspan><tspan x="0" dy="11.1">497-8522</tspan><tspan x="0" dy="11.1">• Links training needs to labour market</tspan><tspan x="0" dy="11.1">• provides training/skills upgrading</tspan><tspan x="0" dy="11.1">• help finding a job</tspan></text></g>
<g id="s-ece" transform="translate(1261,775) scale(.86,1)"><text class="t"><tspan class="h" x="0" y="0">Early Childhood Education</tspan><tspan class="h" x="0" dy="11.1">(Shakasteu Daycare)</tspan><tspan x="0" dy="11.1">497-8458</tspan><tspan x="0" dy="11.1">• Offers day care services for</tspan><tspan x="8" dy="11.1">children (ages 2-5) all year</tspan><tspan x="0" dy="11.1">• Aboriginal Head Start, a free</tspan><tspan x="8" dy="11.1">preschool program for children</tspan><tspan x="8" dy="11.1">age 2.5-4 (mornings during school year).</tspan></text></g>
<g id="s-academy" transform="translate(1261,879) scale(.86,1)"><text class="t"><tspan class="h" x="0" y="0">Academy Canada - Adult Basic Education</tspan><tspan class="h" x="0" dy="11.1">(North West River)</tspan><tspan x="0" dy="11.1">www.academycanada.com/programs-and-courses/adult-basic-education</tspan><tspan x="0" dy="11.1">• Level 1: Basic Literacy (K-6)</tspan><tspan x="0" dy="11.1">• Level 2: Equivalent to grades 7-9</tspan><tspan x="0" dy="11.1">• Level 3: Equivalent to grades 10-12</tspan><tspan x="0" dy="11.1">• Specific courses for high school graduates preparing</tspan><tspan x="8" dy="11.1">for post-secondary requirements</tspan></text></g>
</g>
</svg>
